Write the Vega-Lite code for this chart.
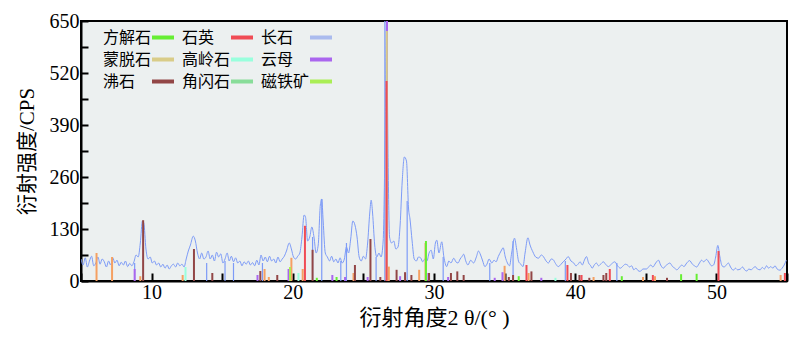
{
  "$schema": "https://vega.github.io/schema/vega-lite/v6.json",
  "autosize": {"type": "none"},
  "padding": {"left": 81, "top": 21, "right": 13, "bottom": 74},
  "width": 706,
  "height": 260,
  "background": "white",
  "config": {
    "view": {"stroke": "black", "strokeWidth": 2, "fill": "#ecf0f0"}
  },
  "encoding": {
    "x": {
      "field": "deg", "type": "quantitative",
      "scale": {"domain": [5, 55], "nice": false, "zero": false},
      "axis": {
        "values": [5, 10, 15, 20, 25, 30, 35, 40, 45, 50, 55],
        "labelExpr": "datum.value % 10 === 0 ? datum.label : ''",
        "title": "衍射角度2 θ/(° )",
        "titleFont": "Liberation Serif, Noto Sans CJK SC",
        "titleFontSize": 22, "titleFontWeight": "normal", "titleColor": "black",
        "titlePadding": 5,
        "labelFont": "Liberation Serif", "labelFontSize": 20, "labelColor": "black",
        "labelPadding": 9, "labelFlush": false, "labelOverlap": false,
        "tickSize": -8, "tickWidth": 2, "tickColor": "black",
        "domainColor": "black", "domainWidth": 2, "grid": false
      }
    },
    "y": {
      "field": "I", "type": "quantitative",
      "scale": {"domain": [0, 650], "nice": false},
      "axis": {
        "values": [0, 65, 130, 195, 260, 325, 390, 455, 520, 585, 650],
        "labelExpr": "datum.value % 130 === 0 ? datum.label : ''",
        "title": "衍射强度/CPS",
        "titleFont": "Liberation Serif, Noto Sans CJK SC",
        "titleFontSize": 21, "titleFontWeight": "normal", "titleColor": "black",
        "titlePadding": 12,
        "labelFont": "Liberation Serif", "labelFontSize": 20, "labelColor": "black",
        "labelPadding": 9, "labelFlush": false, "labelOverlap": false,
        "tickSize": -7, "tickWidth": 2, "tickColor": "black",
        "domainColor": "black", "domainWidth": 2, "grid": false
      }
    }
  },
  "layer": [
    {
      "data": {"values": [
        {"deg":5.0,"I":55},{"deg":5.15,"I":40},{"deg":5.3,"I":58},{"deg":5.45,"I":35},{"deg":5.6,"I":50},{"deg":5.75,"I":62},{"deg":5.9,"I":38},{"deg":6.05,"I":45},{"deg":6.2,"I":60},{"deg":6.35,"I":42},{"deg":6.5,"I":55},{"deg":6.65,"I":48},{"deg":6.8,"I":35},{"deg":6.95,"I":50},{"deg":7.1,"I":40},{"deg":7.25,"I":58},{"deg":7.4,"I":45},{"deg":7.55,"I":52},{"deg":7.7,"I":38},{"deg":7.85,"I":47},{"deg":8.0,"I":40},{"deg":8.15,"I":50},{"deg":8.3,"I":36},{"deg":8.45,"I":44},{"deg":8.6,"I":38},{"deg":8.75,"I":48},{"deg":8.9,"I":65},{"deg":9.05,"I":60},{"deg":9.2,"I":95},{"deg":9.35,"I":150},{"deg":9.45,"I":145},{"deg":9.6,"I":80},{"deg":9.75,"I":55},{"deg":9.9,"I":60},
        {"deg":10.05,"I":45},{"deg":10.2,"I":50},{"deg":10.35,"I":40},{"deg":10.5,"I":45},{"deg":10.65,"I":35},{"deg":10.8,"I":42},{"deg":10.95,"I":32},{"deg":11.1,"I":40},{"deg":11.25,"I":30},{"deg":11.4,"I":38},{"deg":11.55,"I":42},{"deg":11.7,"I":35},{"deg":11.85,"I":45},{"deg":12.0,"I":38},{"deg":12.15,"I":42},{"deg":12.3,"I":35},{"deg":12.45,"I":55},{"deg":12.6,"I":75},{"deg":12.75,"I":90},{"deg":12.95,"I":112},{"deg":13.1,"I":100},{"deg":13.25,"I":70},{"deg":13.4,"I":55},{"deg":13.55,"I":70},{"deg":13.7,"I":55},{"deg":13.85,"I":60},{"deg":14.0,"I":75},{"deg":14.15,"I":55},{"deg":14.3,"I":65},{"deg":14.45,"I":50},{"deg":14.6,"I":72},{"deg":14.75,"I":60},{"deg":14.9,"I":68},
        {"deg":15.05,"I":45},{"deg":15.2,"I":55},{"deg":15.35,"I":70},{"deg":15.5,"I":50},{"deg":15.65,"I":62},{"deg":15.8,"I":48},{"deg":15.95,"I":58},{"deg":16.1,"I":45},{"deg":16.25,"I":50},{"deg":16.4,"I":38},{"deg":16.55,"I":48},{"deg":16.7,"I":42},{"deg":16.85,"I":50},{"deg":17.0,"I":40},{"deg":17.15,"I":46},{"deg":17.3,"I":38},{"deg":17.45,"I":52},{"deg":17.6,"I":40},{"deg":17.75,"I":65},{"deg":17.9,"I":50},{"deg":18.05,"I":60},{"deg":18.2,"I":48},{"deg":18.35,"I":62},{"deg":18.5,"I":50},{"deg":18.65,"I":55},{"deg":18.8,"I":45},{"deg":18.95,"I":60},{"deg":19.1,"I":48},{"deg":19.25,"I":55},{"deg":19.4,"I":62},{"deg":19.55,"I":75},{"deg":19.75,"I":95},{"deg":19.9,"I":80},
        {"deg":20.05,"I":60},{"deg":20.2,"I":55},{"deg":20.35,"I":62},{"deg":20.5,"I":70},{"deg":20.65,"I":110},{"deg":20.8,"I":165},{"deg":20.9,"I":160},{"deg":21.05,"I":100},{"deg":21.2,"I":110},{"deg":21.35,"I":135},{"deg":21.5,"I":110},{"deg":21.65,"I":70},{"deg":21.8,"I":90},{"deg":21.95,"I":190},{"deg":22.05,"I":205},{"deg":22.15,"I":150},{"deg":22.3,"I":70},{"deg":22.45,"I":60},{"deg":22.6,"I":50},{"deg":22.75,"I":62},{"deg":22.9,"I":48},{"deg":23.05,"I":55},{"deg":23.2,"I":45},{"deg":23.35,"I":58},{"deg":23.5,"I":45},{"deg":23.65,"I":55},{"deg":23.8,"I":85},{"deg":23.95,"I":70},{"deg":24.1,"I":105},{"deg":24.25,"I":150},{"deg":24.4,"I":140},{"deg":24.55,"I":110},{"deg":24.7,"I":60},{"deg":24.85,"I":50},
        {"deg":25.0,"I":62},{"deg":25.15,"I":55},{"deg":25.3,"I":95},{"deg":25.45,"I":170},{"deg":25.55,"I":202},{"deg":25.65,"I":170},{"deg":25.8,"I":90},{"deg":25.95,"I":60},{"deg":26.1,"I":70},{"deg":26.25,"I":60},{"deg":26.4,"I":100},{"deg":26.55,"I":400},{"deg":26.64,"I":660},{"deg":26.75,"I":300},{"deg":26.85,"I":110},{"deg":27.0,"I":95},{"deg":27.15,"I":100},{"deg":27.3,"I":80},{"deg":27.45,"I":85},{"deg":27.6,"I":140},{"deg":27.75,"I":250},{"deg":27.9,"I":310},{"deg":28.05,"I":300},{"deg":28.2,"I":180},{"deg":28.3,"I":155},{"deg":28.45,"I":100},{"deg":28.6,"I":55},{"deg":28.75,"I":50},{"deg":28.9,"I":60},{"deg":29.05,"I":58},{"deg":29.2,"I":48},{"deg":29.35,"I":55},{"deg":29.5,"I":50},{"deg":29.65,"I":70},{"deg":29.8,"I":77},{"deg":29.95,"I":55},
        {"deg":30.1,"I":95},{"deg":30.2,"I":102},{"deg":30.35,"I":70},{"deg":30.55,"I":98},{"deg":30.7,"I":60},{"deg":30.9,"I":36},{"deg":31.05,"I":50},{"deg":31.2,"I":45},{"deg":31.4,"I":57},{"deg":31.55,"I":48},{"deg":31.7,"I":45},{"deg":31.85,"I":55},{"deg":32.0,"I":62},{"deg":32.1,"I":67},{"deg":32.25,"I":50},{"deg":32.4,"I":40},{"deg":32.6,"I":52},{"deg":32.8,"I":45},{"deg":33.0,"I":60},{"deg":33.15,"I":75},{"deg":33.3,"I":65},{"deg":33.45,"I":50},{"deg":33.6,"I":36},{"deg":33.75,"I":42},{"deg":33.9,"I":55},{"deg":34.1,"I":45},{"deg":34.25,"I":52},{"deg":34.4,"I":48},{"deg":34.55,"I":61},{"deg":34.75,"I":75},{"deg":34.9,"I":83},
        {"deg":35.05,"I":60},{"deg":35.2,"I":45},{"deg":35.35,"I":38},{"deg":35.5,"I":70},{"deg":35.7,"I":107},{"deg":35.85,"I":80},{"deg":36.0,"I":48},{"deg":36.15,"I":42},{"deg":36.3,"I":36},{"deg":36.45,"I":70},{"deg":36.65,"I":108},{"deg":36.8,"I":90},{"deg":37.0,"I":73},{"deg":37.2,"I":60},{"deg":37.4,"I":57},{"deg":37.6,"I":65},{"deg":37.75,"I":61},{"deg":37.9,"I":52},{"deg":38.1,"I":45},{"deg":38.3,"I":55},{"deg":38.45,"I":53},{"deg":38.6,"I":44},{"deg":38.8,"I":36},{"deg":39.0,"I":42},{"deg":39.15,"I":48},{"deg":39.35,"I":55},{"deg":39.5,"I":61},{"deg":39.7,"I":50},{"deg":39.9,"I":45},
        {"deg":40.05,"I":38},{"deg":40.2,"I":42},{"deg":40.35,"I":48},{"deg":40.5,"I":40},{"deg":40.65,"I":52},{"deg":40.8,"I":61},{"deg":40.95,"I":45},{"deg":41.1,"I":38},{"deg":41.2,"I":32},{"deg":41.35,"I":40},{"deg":41.5,"I":45},{"deg":41.65,"I":38},{"deg":41.8,"I":42},{"deg":42.0,"I":48},{"deg":42.15,"I":42},{"deg":42.35,"I":36},{"deg":42.5,"I":40},{"deg":42.65,"I":45},{"deg":42.8,"I":48},{"deg":43.0,"I":38},{"deg":43.2,"I":32},{"deg":43.4,"I":38},{"deg":43.55,"I":42},{"deg":43.7,"I":40},{"deg":43.85,"I":35},{"deg":44.0,"I":38},{"deg":44.15,"I":28},{"deg":44.3,"I":32},{"deg":44.45,"I":26},{"deg":44.6,"I":24},{"deg":44.8,"I":30},
        {"deg":45.05,"I":30},{"deg":45.2,"I":35},{"deg":45.35,"I":40},{"deg":45.5,"I":35},{"deg":45.7,"I":45},{"deg":45.9,"I":52},{"deg":46.05,"I":40},{"deg":46.25,"I":32},{"deg":46.4,"I":38},{"deg":46.55,"I":42},{"deg":46.7,"I":45},{"deg":46.9,"I":36},{"deg":47.05,"I":32},{"deg":47.2,"I":28},{"deg":47.4,"I":35},{"deg":47.55,"I":40},{"deg":47.7,"I":36},{"deg":47.9,"I":45},{"deg":48.1,"I":51},{"deg":48.3,"I":42},{"deg":48.45,"I":38},{"deg":48.6,"I":35},{"deg":48.8,"I":45},{"deg":48.95,"I":52},{"deg":49.1,"I":48},{"deg":49.3,"I":54},{"deg":49.5,"I":45},{"deg":49.65,"I":38},{"deg":49.8,"I":40},{"deg":49.95,"I":60},
        {"deg":50.1,"I":89},{"deg":50.25,"I":60},{"deg":50.4,"I":38},{"deg":50.55,"I":35},{"deg":50.7,"I":40},{"deg":50.85,"I":45},{"deg":51.0,"I":35},{"deg":51.2,"I":27},{"deg":51.35,"I":32},{"deg":51.5,"I":28},{"deg":51.7,"I":30},{"deg":51.85,"I":35},{"deg":52.0,"I":28},{"deg":52.15,"I":25},{"deg":52.3,"I":30},{"deg":52.45,"I":28},{"deg":52.6,"I":32},{"deg":52.75,"I":36},{"deg":52.9,"I":30},{"deg":53.1,"I":28},{"deg":53.25,"I":34},{"deg":53.4,"I":30},{"deg":53.55,"I":38},{"deg":53.7,"I":32},{"deg":53.85,"I":36},{"deg":54.0,"I":32},{"deg":54.15,"I":38},{"deg":54.3,"I":30},{"deg":54.5,"I":27},{"deg":54.65,"I":32},{"deg":54.8,"I":40},{"deg":54.95,"I":52}
      ]},
      "mark": {"type": "line", "color": "#7d9bf7", "strokeWidth": 1, "interpolate": "monotone", "clip": true}
    },
    {
      "data": {"values": [
        {"phase":"谱线","deg":8.8,"I":45},{"phase":"谱线","deg":13.9,"I":45},{"phase":"谱线","deg":15.2,"I":50},{"phase":"谱线","deg":15.8,"I":45},{"phase":"谱线","deg":17.85,"I":45},{"phase":"谱线","deg":21.4,"I":110},{"phase":"谱线","deg":22.05,"I":205},{"phase":"谱线","deg":23.4,"I":50},{"phase":"谱线","deg":23.8,"I":95},{"phase":"谱线","deg":25.9,"I":60},{"phase":"谱线","deg":26.52,"I":650},{"phase":"谱线","deg":28.1,"I":200},{"phase":"谱线","deg":30.65,"I":60},{"phase":"谱线","deg":33.95,"I":45},{"phase":"谱线","deg":35.6,"I":100},{"phase":"谱线","deg":39.3,"I":50},{"phase":"谱线","deg":42.95,"I":45},
        {"phase":"蒙脱石衍射线","deg":6.1,"I":70},{"phase":"蒙脱石衍射线","deg":7.2,"I":60},{"phase":"蒙脱石衍射线","deg":9.2,"I":12},{"phase":"蒙脱石衍射线","deg":12.2,"I":15},{"phase":"蒙脱石衍射线","deg":18.0,"I":30},{"phase":"蒙脱石衍射线","deg":18.3,"I":10},{"phase":"蒙脱石衍射线","deg":19.9,"I":58},{"phase":"蒙脱石衍射线","deg":20.7,"I":30},{"phase":"蒙脱石衍射线","deg":24.3,"I":20},{"phase":"蒙脱石衍射线","deg":26.8,"I":36},{"phase":"蒙脱石衍射线","deg":28.95,"I":28},{"phase":"蒙脱石衍射线","deg":29.4,"I":95},{"phase":"蒙脱石衍射线","deg":35.0,"I":38},{"phase":"蒙脱石衍射线","deg":36.7,"I":20},{"phase":"蒙脱石衍射线","deg":41.3,"I":10},{"phase":"蒙脱石衍射线","deg":44.8,"I":10},{"phase":"蒙脱石衍射线","deg":45.65,"I":12},{"phase":"蒙脱石衍射线","deg":54.55,"I":15},
        {"phase":"云母","deg":8.8,"I":30},{"phase":"云母","deg":17.5,"I":15},{"phase":"云母","deg":19.7,"I":30},{"phase":"云母","deg":22.8,"I":15},{"phase":"云母","deg":23.7,"I":10},{"phase":"云母","deg":25.3,"I":10},{"phase":"云母","deg":26.67,"I":650},{"phase":"云母","deg":27.6,"I":12},{"phase":"云母","deg":29.6,"I":20},{"phase":"云母","deg":31.0,"I":10},{"phase":"云母","deg":34.3,"I":8},{"phase":"云母","deg":34.85,"I":22},{"phase":"云母","deg":37.6,"I":8},
        {"phase":"蒙脱石","deg":26.66,"I":625},
        {"phase":"沸石","deg":9.4,"I":152},{"phase":"沸石","deg":13.0,"I":80},{"phase":"沸石","deg":14.3,"I":20},{"phase":"沸石","deg":17.7,"I":25},{"phase":"沸石","deg":18.9,"I":15},{"phase":"沸石","deg":21.4,"I":78},{"phase":"沸石","deg":24.4,"I":40},{"phase":"沸石","deg":25.5,"I":105},{"phase":"沸石","deg":26.2,"I":10},{"phase":"沸石","deg":27.35,"I":28},{"phase":"沸石","deg":27.95,"I":22},{"phase":"沸石","deg":28.4,"I":15},{"phase":"沸石","deg":29.65,"I":20},{"phase":"沸石","deg":31.2,"I":20},{"phase":"沸石","deg":31.65,"I":24},{"phase":"沸石","deg":32.1,"I":15},{"phase":"沸石","deg":35.3,"I":10},{"phase":"沸石","deg":35.6,"I":15},{"phase":"沸石","deg":36.9,"I":24},{"phase":"沸石","deg":39.7,"I":20},{"phase":"沸石","deg":40.3,"I":15},{"phase":"沸石","deg":41.0,"I":8},{"phase":"沸石","deg":42.0,"I":15},{"phase":"沸石","deg":42.2,"I":20},{"phase":"沸石","deg":46.5,"I":8},
        {"phase":"高岭石","deg":12.4,"I":35},{"phase":"高岭石","deg":20.4,"I":20},{"phase":"高岭石","deg":38.6,"I":8},
        {"phase":"磁铁矿","deg":19.8,"I":35},
        {"phase":"方解石","deg":21.7,"I":8},{"phase":"方解石","deg":23.1,"I":10},{"phase":"方解石","deg":29.43,"I":100},{"phase":"方解石","deg":36.0,"I":12},{"phase":"方解石","deg":43.3,"I":12},{"phase":"方解石","deg":47.5,"I":17},{"phase":"方解石","deg":48.6,"I":18},
        {"phase":"石英","deg":20.86,"I":138},{"phase":"石英","deg":26.64,"I":500},{"phase":"石英","deg":36.55,"I":40},{"phase":"石英","deg":39.45,"I":40},{"phase":"石英","deg":40.45,"I":15},{"phase":"石英","deg":42.45,"I":30},{"phase":"石英","deg":45.5,"I":15},{"phase":"石英","deg":50.15,"I":75},{"phase":"石英","deg":54.85,"I":20}
      ]},
      "mark": {"type": "rule", "clip": true},
      "encoding": {
        "y2": {"datum": 0},
        "strokeWidth": {"condition": {"test": "datum.phase === '谱线'", "value": 1.2}, "value": 2},
        "color": {
          "field": "phase", "type": "nominal",
          "scale": {
            "domain": ["方解石", "石英", "长石", "蒙脱石", "高岭石", "云母", "沸石", "角闪石", "磁铁矿", "蒙脱石衍射线", "谱线"],
            "range": ["#66ee33", "#f04c55", "#aabbee", "#d9cc88", "#99ffdd", "#aa66ee", "#924646", "#88dd99", "#aaee55", "#f5a062", "#7d9bf7"]
          },
          "legend": {
            "values": ["方解石", "石英", "长石", "蒙脱石", "高岭石", "云母", "沸石", "角闪石", "磁铁矿"],
            "orient": "none", "legendX": 22, "legendY": 3.5,
            "columns": 3, "direction": "horizontal",
            "title": null, "padding": 0,
            "symbolType": "stroke", "symbolSize": 484, "symbolStrokeWidth": 4,
            "symbolOffset": 47, "labelOffset": -73,
            "labelFont": "Noto Sans CJK SC", "labelFontSize": 16, "labelColor": "black",
            "columnPadding": 0, "rowPadding": 1
          }
        }
      }
    }
  ]
}
